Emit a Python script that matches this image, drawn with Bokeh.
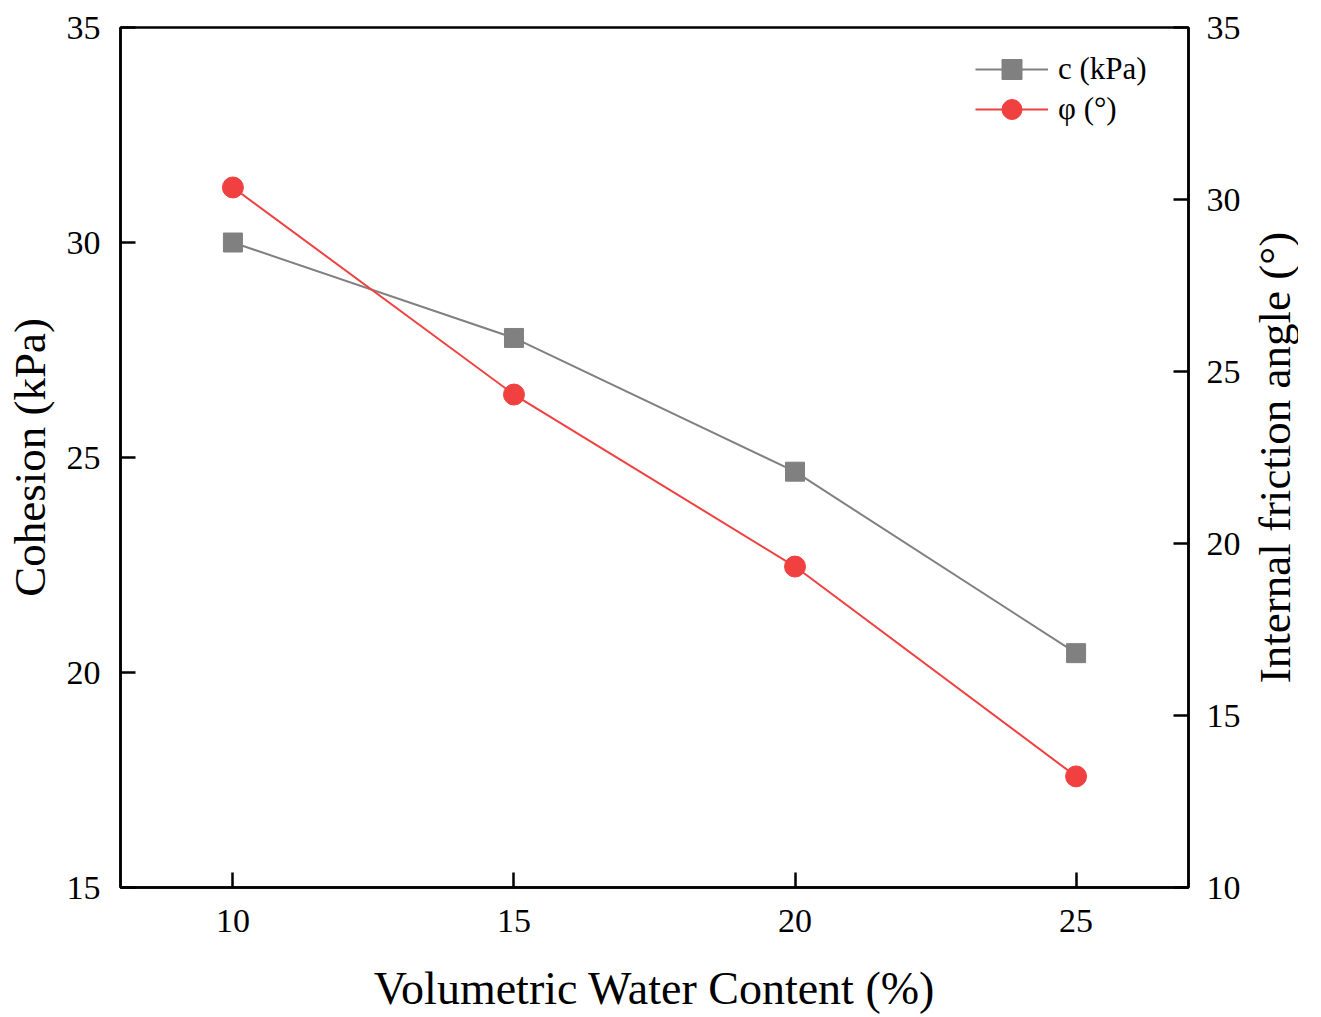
import math
from bokeh.plotting import figure
from bokeh.layouts import row
from bokeh.models import Range1d, LinearAxis, Legend, LegendItem, FixedTicker
from bokeh.embed import file_html
from bokeh.resources import INLINE

water = [10, 15, 20, 25]
cohesion = [30.0, 27.78, 24.67, 20.45]
phi = [30.35, 24.33, 19.33, 13.23]

x_ticks = [10, 15, 20, 25]
left_ticks = [15, 20, 25, 30, 35]
right_ticks = [10, 15, 20, 25, 30, 35]

right_title = "Internal friction angle (°)"

FONT = "Liberation Serif"
GRAY = "#808080"
RED = "#F14040"

p = figure(frame_width=1068, frame_height=860,
           min_border_left=120, min_border_right=60,
           min_border_top=27, min_border_bottom=129,
           x_range=Range1d(8, 27), y_range=Range1d(15, 35),
           output_backend="svg", toolbar_location=None,
           background_fill_color="white", border_fill_color="white")
p.extra_y_ranges = {"phi": Range1d(10, 35)}
p.grid.visible = False
p.outline_line_color = "black"
p.outline_line_width = 2.5

def style(ax):
    ax.axis_line_width = 2.5
    ax.axis_line_color = "black"
    ax.major_tick_in = 15
    ax.major_tick_out = 0
    ax.major_tick_line_width = 2.5
    ax.minor_tick_line_color = None
    ax.major_label_text_font = FONT
    ax.major_label_text_font_size = "34px"
    ax.major_label_text_color = "black"
    ax.axis_label_text_font = FONT
    ax.axis_label_text_font_size = "45px"
    ax.axis_label_text_font_style = "normal"
    ax.axis_label_text_color = "black"

xa = p.xaxis[0]
style(xa)
xa.ticker = FixedTicker(ticks=x_ticks)
xa.axis_label = "Volumetric Water Content (%)"
xa.axis_label_text_font_size = "46px"
xa.major_label_standoff = 22
xa.axis_label_standoff = 28

ya = p.yaxis[0]
style(ya)
ya.ticker = FixedTicker(ticks=left_ticks)
ya.axis_label = "Cohesion (kPa)"
ya.major_label_standoff = 20
ya.axis_label_standoff = 9

ra = LinearAxis(y_range_name="phi")
style(ra)
ra.ticker = FixedTicker(ticks=right_ticks)
ra.major_label_standoff = 18
p.add_layout(ra, "right")

lc = p.line(water, cohesion, line_color=GRAY, line_width=2)
sc = p.scatter(water, cohesion, marker="square", size=19, fill_color=GRAY, line_color=GRAY)
lp = p.line(water, phi, line_color=RED, line_width=2, y_range_name="phi")
sp = p.scatter(water, phi, marker="circle", size=21, fill_color=RED, line_color=RED, y_range_name="phi")

def make_legend(label, renderers, loc):
    return Legend(items=[LegendItem(label=label, renderers=renderers)],
                  location=loc, orientation="vertical",
                  border_line_color=None, background_fill_alpha=0,
                  padding=0, spacing=0, glyph_width=73, glyph_height=50,
                  label_standoff=10, label_text_font=FONT, label_text_font_size="31px",
                  label_text_color="black", label_height=50)

p.add_layout(make_legend("c (kPa)", [lc, sc], (855, 793)))
p.add_layout(make_legend("φ (°)", [lp, sp], (855, 753)))

# side strip carrying the right-hand axis title, reading bottom-to-top
p2 = figure(frame_width=50, frame_height=860,
            min_border_left=0, min_border_right=0,
            min_border_top=27, min_border_bottom=129,
            x_range=Range1d(0, 50), y_range=Range1d(10, 35),
            x_axis_location=None, y_axis_location=None,
            output_backend="svg", toolbar_location=None,
            background_fill_color="white", border_fill_color="white")
p2.grid.visible = False
p2.outline_line_color = None
p2.text(x=[26], y=[22.5], text=[right_title], angle=math.pi / 2,
        text_align="center", text_baseline="alphabetic",
        text_font=FONT, text_font_size="45px", text_color="black")

layout = row(p, p2, spacing=0)
open("out.html", "w").write(file_html(layout, INLINE))
